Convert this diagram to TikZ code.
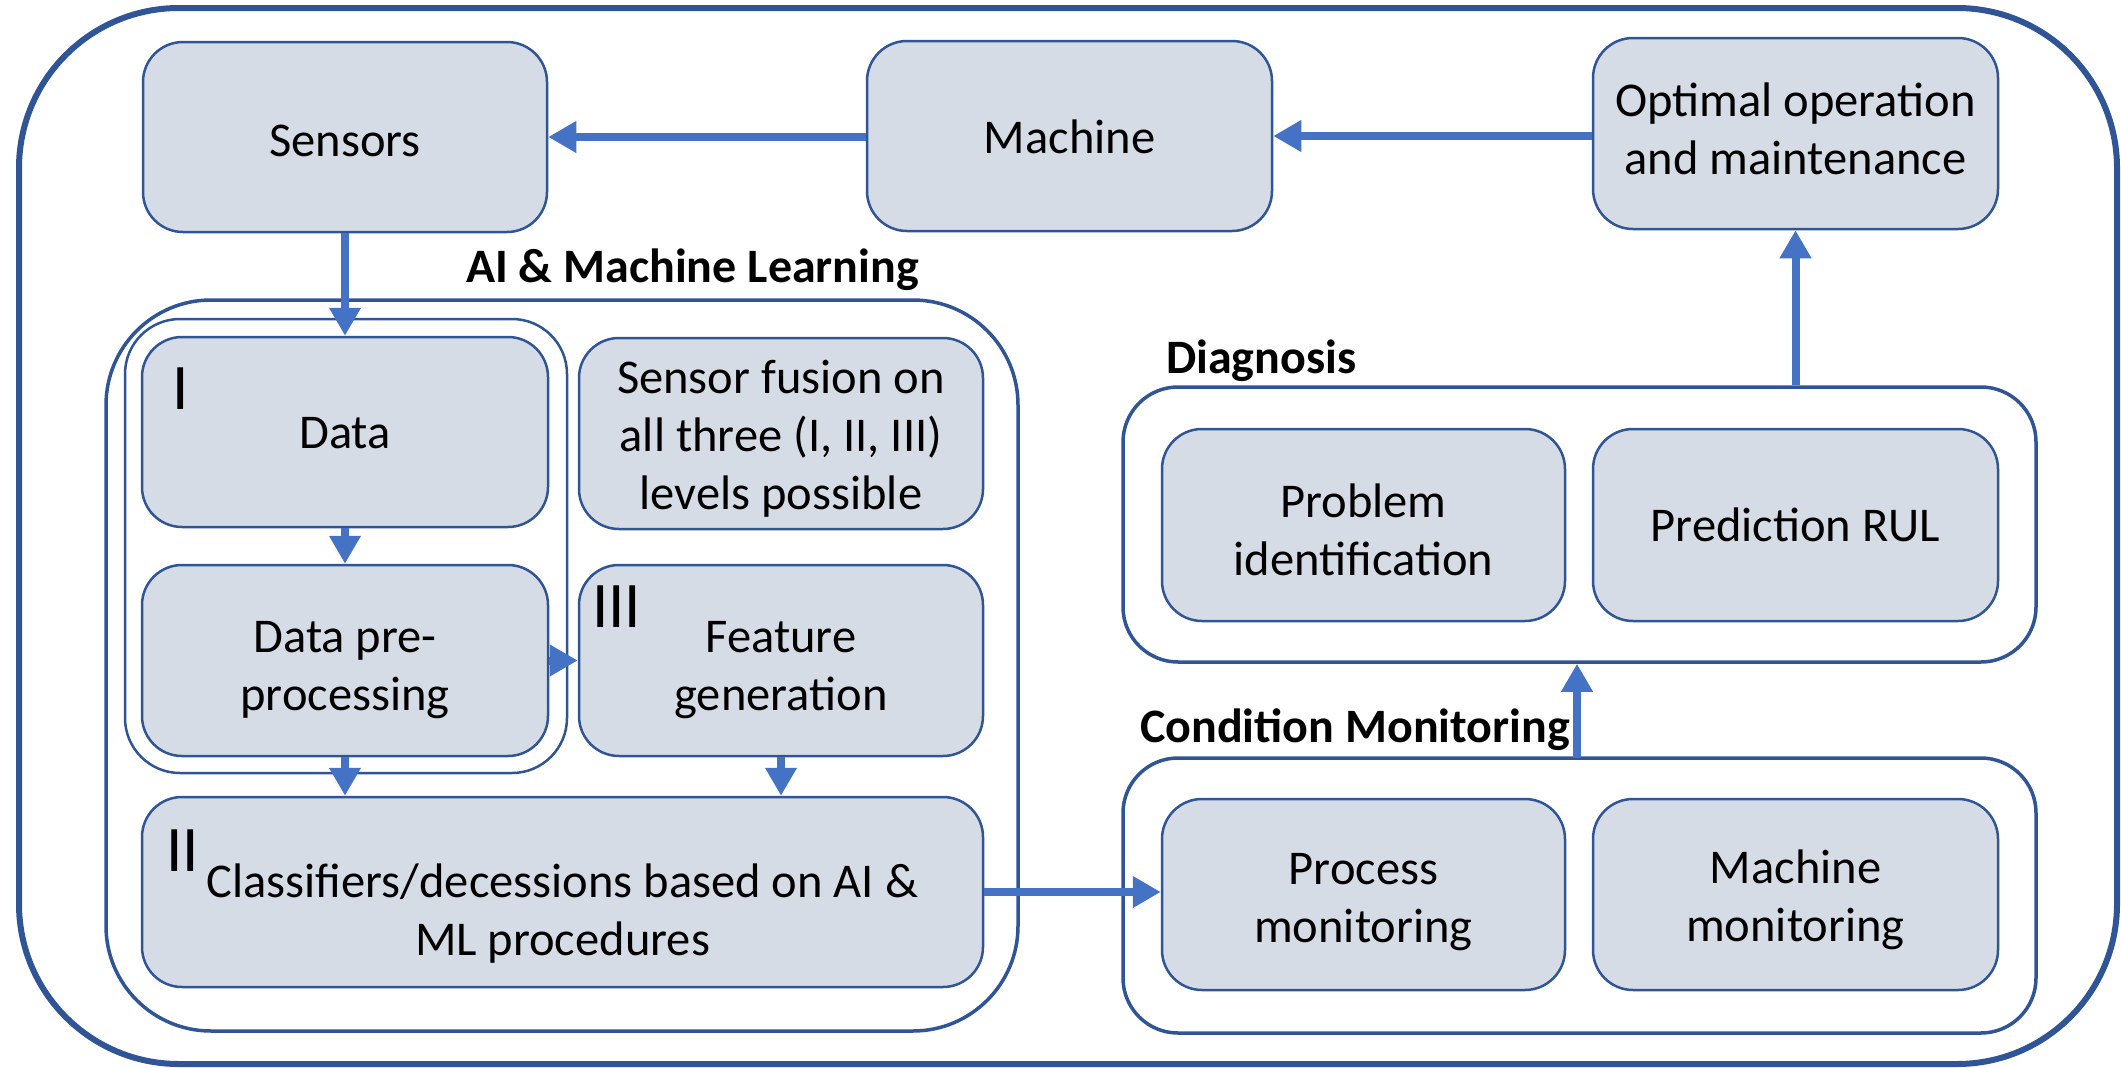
\documentclass[tikz,border=0pt]{standalone}
\usepackage{fontspec}
\setmainfont{Carlito}
\usetikzlibrary{arrows.meta}
\definecolor{bordc}{HTML}{2F5597}
\definecolor{boxc}{HTML}{D6DCE5}
\definecolor{arrc}{HTML}{4472C4}
\newcommand{\fsn}{\fontsize{48.5}{58}\selectfont}
\newcommand{\fsl}{\fontsize{48}{58}\selectfont}
\newcommand{\fsr}{\fontsize{65}{70}\selectfont}
\begin{document}
\begin{tikzpicture}[x=1pt,y=-1pt,
  box/.style={draw=bordc, fill=boxc, line width=2.5pt, rounded corners=40pt, inner sep=0pt},
  cont/.style={draw=bordc, line width=3.5pt, inner sep=0pt},
  arr/.style={draw=arrc, line width=8pt, -{Triangle[length=28pt,width=30pt]}},
  lbl/.style={font=\fsl\bfseries, inner sep=0pt, anchor=base west},
  rom/.style={font=\fsr, inner sep=0pt, anchor=base west},
  txt/.style={font=\fsn, inner sep=0pt, align=center, text=black}
]
\useasboundingbox (0,0) rectangle (2121,1068);
% outer frame
\draw[draw=bordc, line width=6pt, rounded corners=160pt] (19,8) rectangle (2117,1064);

% containers
\node[cont, rounded corners=105pt, minimum width=912pt, minimum height=731pt] (ai) at (562,665.5) {};
\node[cont, line width=2.5pt, rounded corners=55pt, minimum width=442pt, minimum height=454pt] (grp) at (346,546) {};
\node[cont, rounded corners=55pt, minimum width=913pt, minimum height=275pt] (diag) at (1579.5,524.5) {};
\node[cont, rounded corners=55pt, minimum width=913pt, minimum height=275pt] (cm) at (1579.5,895.5) {};

% labels
\node[lbl] (lai) at (466,282) {AI \& Machine Learning};
\node[lbl] (ldiag) at (1166,373) {Diagnosis};
\node[lbl] (lcm) at (1140,742) {Condition Monitoring};

% top boxes
\node[box, minimum width=404pt, minimum height=190pt,
  label={[txt,yshift=-4pt]center:{Sensors}}] (sensors) at (345,137) {};
\node[box, minimum width=405pt, minimum height=190pt,
  label={[txt,yshift=-1pt]center:{Machine}}] (machine) at (1069.5,136) {};
\node[box, minimum width=405pt, minimum height=191pt,
  label={[txt,yshift=5pt]center:{Optimal operation\\and maintenance}}] (optimal) at (1795.5,133.5) {};

% AI boxes
\node[box, minimum width=406pt, minimum height=190pt,
  label={[txt,yshift=-1pt]center:{Data}}] (data) at (345,432) {};
\node[box, minimum width=404pt, minimum height=191pt,
  label={[txt,yshift=-5pt]center:{Sensor fusion on\\all three (I, II, III)\\levels possible}}] (fusion) at (781,433.5) {};
\node[box, minimum width=406pt, minimum height=191pt,
  label={[txt,yshift=-10pt]center:{Data pre-\\processing}}] (pre) at (345,660.5) {};
\node[box, minimum width=404pt, minimum height=191pt,
  label={[txt,yshift=-10pt]center:{Feature\\generation}}] (feat) at (781,660.5) {};
\node[box, minimum width=841pt, minimum height=190pt,
  label={[txt,yshift=-22pt]center:{Classifiers/decessions based on AI \&\\ML procedures}}] (cls) at (562.5,892) {};

\node[rom] (r1) at (172,409) {I};
\node[rom] (r3) at (592,627) {III};
\node[rom] (r2) at (166,871) {II};

% diagnosis & CM boxes
\node[box, minimum width=403pt, minimum height=192pt,
  label={[txt,yshift=-5pt]center:{Problem\\identification}}] (prob) at (1363.5,525) {};
\node[box, minimum width=405pt, minimum height=192pt,
  label={[txt]center:{Prediction RUL}}] (pred) at (1795.5,525) {};
\node[box, minimum width=403pt, minimum height=191pt,
  label={[txt,yshift=-8pt]center:{Process\\monitoring}}] (proc) at (1363.5,894.5) {};
\node[box, minimum width=405pt, minimum height=191pt,
  label={[txt,yshift=-5pt]center:{Machine\\monitoring}}] (mmon) at (1795.5,894.5) {};

% arrows
\draw[arr] (machine.west |- sensors.east) -- (sensors.east);
\draw[arr] (optimal.west |- machine.east) -- (machine.east);
\draw[arr] (sensors.south) -- (data.north);
\draw[arr] (data.south) -- (pre.north);
\draw[arr] (pre.east) -- (feat.west);
\draw[arr] (pre.south) -- (pre.south |- cls.north);
\draw[arr] (feat.south) -- (feat.south |- cls.north);
\draw[arr] (cls.east) -- (proc.west |- cls.east);
\coordinate (cmtop) at (1577,758);
\draw[arr] (cmtop) -- (cmtop |- diag.south);
\draw[arr] (optimal.south |- diag.north) -- (optimal.south);
\end{tikzpicture}
\end{document}
